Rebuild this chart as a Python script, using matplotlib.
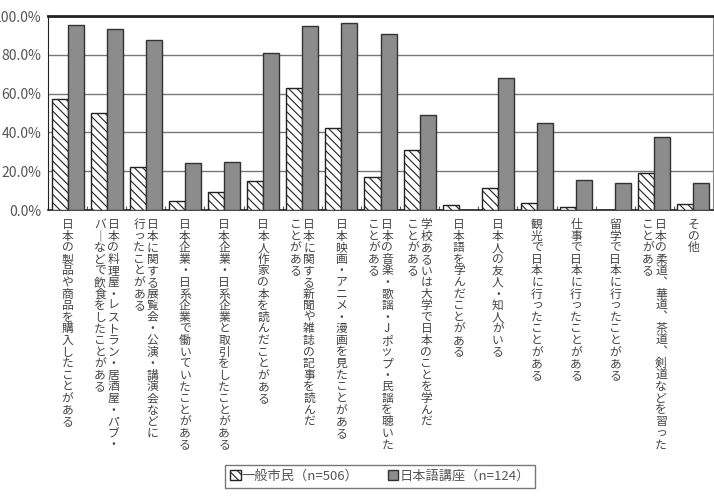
import matplotlib
matplotlib.use("Agg")
import matplotlib.pyplot as plt
import numpy as np

plt.rcParams['font.family'] = ['Noto Sans CJK JP', 'DejaVu Sans']
plt.rcParams['hatch.linewidth'] = 0.8

# each label is split into vertical columns (first column is drawn on the right)
labels = [
    ["日本の製品や商品を購入したことがある"],
    ["日本の料理屋・レストラン・居酒屋・パブ・", "バーなどで飲食をしたことがある"],
    ["日本に関する展覧会・公演・講演会などに", "行ったことがある"],
    ["日本企業・日系企業で働いていたことがある"],
    ["日本企業・日系企業と取引をしたことがある"],
    ["日本人作家の本を読んだことがある"],
    ["日本に関する新聞や雑誌の記事を読んだ", "ことがある"],
    ["日本映画・アニメ・漫画を見たことがある"],
    ["日本の音楽・歌謡・Jポップ・民謡を聴いた", "ことがある"],
    ["学校あるいは大学で日本のことを学んだ", "ことがある"],
    ["日本語を学んだことがある"],
    ["日本人の友人・知人がいる"],
    ["観光で日本に行ったことがある"],
    ["仕事で日本に行ったことがある"],
    ["留学で日本に行ったことがある"],
    ["日本の柔道、華道、茶道、剣道などを習った", "ことがある"],
    ["その他"],
]
citizens = [57.4, 49.8, 22.0, 4.6, 9.4, 15.1, 62.7, 42.1, 16.8, 30.9,
            2.4, 11.3, 3.8, 1.4, 0.2, 18.9, 3.1]
course = [95.5, 93.1, 87.4, 24.1, 24.7, 81.1, 94.8, 96.2, 90.7, 49.0,
          0.0, 68.0, 44.8, 15.3, 13.7, 37.8, 13.7]
series_names = ["一般市民（n=506）", "日本語講座（n=124）"]

fig = plt.figure(figsize=(7.14, 5.04), dpi=100)
ax = fig.add_axes([48 / 714, 1 - 210 / 504, 665 / 714, 194 / 504])

x = np.arange(len(labels))
w = 0.41
ax.bar(x - w / 2, citizens, w, color="white", edgecolor="#222222",
       hatch="\\\\\\\\", linewidth=1, label=series_names[0], zorder=3)
ax.bar(x + w / 2, course, w, color="#8c8c8c", edgecolor="#333333",
       linewidth=1, label=series_names[1], zorder=3)

ax.set_xlim(-0.5, len(labels) - 0.5)
ax.set_ylim(0, 100)
yt = np.arange(0, 101, 20)
ax.set_yticks(yt)
ax.set_yticklabels([f"{v:.1f}%" for v in yt], fontsize=10, color="#555555")
ax.tick_params(axis="y", length=0, pad=5)
ax.set_xticks(np.arange(-0.5, len(labels), 1))
ax.set_xticklabels([])
ax.tick_params(axis="x", direction="in", length=3, color="#555555")
ax.grid(axis="y", color="#777777", linewidth=1, zorder=0)

ax.spines["top"].set_linewidth(2)
ax.spines["top"].set_color("#222222")
ax.spines["right"].set_color("#888888")
ax.spines["left"].set_color("#222222")
ax.spines["bottom"].set_color("#222222")
ax.spines["bottom"].set_linewidth(1.2)

# vertical writing: one character per step, baselines in points below the axis
step = 11.6 * 0.72
first = 18 * 0.72
for i, cols in enumerate(labels):
    n = len(cols)
    for j, col in enumerate(cols):
        dx = 0 if n == 1 else (4.8 if j == 0 else -4.8)
        col = col.replace("ー", "｜").replace("、", "︑")
        for k, ch in enumerate(col):
            ax.annotate(ch, xy=(i, 0), xycoords="data",
                        xytext=(dx, -first - k * step), textcoords="offset points",
                        ha="center", va="baseline", fontsize=8.5,
                        color="#444444")

fig.legend(loc="center", bbox_to_anchor=(380 / 714, 1 - 476.5 / 504), ncol=2,
           fontsize=9.5, frameon=True, fancybox=False, edgecolor="#555555",
           handlelength=0.8, handleheight=0.8, handletextpad=0.1,
           columnspacing=2.2, borderpad=0.4, labelcolor="#555555")

fig.savefig("out.png", dpi=100)
